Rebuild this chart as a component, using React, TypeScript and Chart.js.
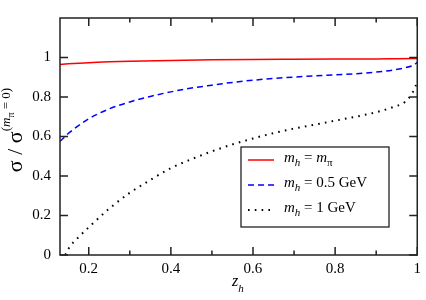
import React, { useEffect, useRef } from "react";
import { Chart, registerables } from "chart.js";

Chart.register(...registerables);

const zPion = [0.13, 0.15, 0.2, 0.25, 0.3, 0.4, 0.5, 0.6, 0.7, 0.8, 0.9, 0.95, 1.0];
const ratioPion = [0.965, 0.968, 0.974, 0.978, 0.981, 0.985, 0.988, 0.99, 0.991, 0.992, 0.993, 0.994, 0.995];

const zHalf = [0.13, 0.15, 0.175, 0.2, 0.25, 0.3, 0.35, 0.4, 0.45, 0.5, 0.55, 0.6, 0.65, 0.7, 0.75, 0.8, 0.85, 0.9, 0.94, 0.97, 0.99, 1.0];
const ratioHalf = [0.575, 0.615, 0.655, 0.69, 0.74, 0.775, 0.803, 0.826, 0.845, 0.86, 0.874, 0.885, 0.894, 0.901, 0.907, 0.912, 0.918, 0.926, 0.936, 0.948, 0.96, 0.975];

const zOne = [0.143, 0.15, 0.175, 0.2, 0.25, 0.3, 0.35, 0.4, 0.45, 0.5, 0.55, 0.6, 0.65, 0.7, 0.75, 0.8, 0.85, 0.9, 0.94, 0.97, 0.985, 0.995, 1.0];
const ratioOne = [0.0, 0.03, 0.09, 0.14, 0.235, 0.315, 0.38, 0.44, 0.485, 0.525, 0.56, 0.59, 0.617, 0.64, 0.66, 0.68, 0.7, 0.723, 0.748, 0.775, 0.81, 0.85, 0.88];

const xMajorTicks = [0.2, 0.4, 0.6, 0.8, 1.0];
const xMinorTicks = [0.3, 0.5, 0.7, 0.9];
const yMajorTicks = [0, 0.2, 0.4, 0.6, 0.8, 1.0];

const seriesMasses = ["π", "0.5 GeV", "1 GeV"];

const SERIF = "'Liberation Serif', 'Times New Roman', serif";

const pts = (xs: number[], ys: number[]) => xs.map((x, i) => ({ x, y: ys[i] }));

const framePlugin = {
  id: "frameAndDecor",
  afterDraw(chart: any) {
    const { ctx, chartArea: a, scales } = chart;
    const xs = scales.x;
    const ys = scales.y;
    ctx.save();
    ctx.strokeStyle = "#222";
    ctx.lineWidth = 1.5;
    ctx.strokeRect(a.left, a.top, a.right - a.left, a.bottom - a.top);
    ctx.beginPath();
    const major = 8;
    const minor = 4.5;
    xMajorTicks.forEach((v) => {
      const p = xs.getPixelForValue(v);
      ctx.moveTo(p, a.bottom); ctx.lineTo(p, a.bottom - major);
      ctx.moveTo(p, a.top); ctx.lineTo(p, a.top + major);
    });
    xMinorTicks.forEach((v) => {
      const p = xs.getPixelForValue(v);
      ctx.moveTo(p, a.bottom); ctx.lineTo(p, a.bottom - minor);
      ctx.moveTo(p, a.top); ctx.lineTo(p, a.top + minor);
    });
    yMajorTicks.forEach((v) => {
      const p = ys.getPixelForValue(v);
      ctx.moveTo(a.left, p); ctx.lineTo(a.left + major, p);
      ctx.moveTo(a.right, p); ctx.lineTo(a.right - major, p);
    });
    ctx.stroke();

    // Legend box
    const bx = 241, by = 147, bw = 148, bh = 80;
    ctx.fillStyle = "#fff";
    ctx.fillRect(bx, by, bw, bh);
    ctx.lineWidth = 1.3;
    ctx.strokeStyle = "#222";
    ctx.strokeRect(bx, by, bw, bh);
    const rows = [162, 187, 212];
    const styles = [
      { color: "#ff0000", dash: [] as number[], width: 1.5, cap: "butt" },
      { color: "#0000ff", dash: [6, 4], width: 1.5, cap: "butt" },
      { color: "#000000", dash: [1.6, 5.2], width: 2, cap: "butt" },
    ];
    rows.forEach((base, i) => {
      const s = styles[i];
      ctx.beginPath();
      ctx.setLineDash(s.dash);
      ctx.strokeStyle = s.color;
      ctx.lineWidth = s.width;
      ctx.lineCap = s.cap;
      ctx.moveTo(248, base - 2);
      ctx.lineTo(274, base - 2);
      ctx.stroke();
      ctx.setLineDash([]);
      ctx.fillStyle = "#000";
      ctx.textBaseline = "alphabetic";
      ctx.textAlign = "left";
      let x = 284;
      ctx.font = `italic 15px ${SERIF}`;
      ctx.fillText("m", x, base);
      x += ctx.measureText("m").width;
      ctx.font = `italic 11px ${SERIF}`;
      ctx.fillText("h", x, base + 4);
      x += ctx.measureText("h").width;
      ctx.font = `15px ${SERIF}`;
      ctx.fillText(" = ", x, base);
      x += ctx.measureText(" = ").width;
      if (i === 0) {
        ctx.font = `italic 15px ${SERIF}`;
        ctx.fillText("m", x, base);
        x += ctx.measureText("m").width;
        ctx.font = `11px ${SERIF}`;
        ctx.fillText(seriesMasses[0], x, base + 4);
      } else {
        ctx.font = `15px ${SERIF}`;
        ctx.fillText(seriesMasses[i], x, base);
      }
    });

    // X title z_h
    ctx.fillStyle = "#000";
    ctx.font = `italic 16px ${SERIF}`;
    ctx.fillText("z", 232, 286);
    const zw = ctx.measureText("z").width;
    ctx.font = `italic 11px ${SERIF}`;
    ctx.fillText("h", 232 + zw, 292);

    // Y title sigma / sigma^(m_pi = 0)
    ctx.translate(22, 0);
    ctx.rotate(-Math.PI / 2);
    const mainFont = `22px ${SERIF}`;
    const supFont = `13px ${SERIF}`;
    const supItal = `italic 13px ${SERIF}`;
    const subFont = `10px ${SERIF}`;
    const parts = [
      { t: "σ / σ", f: mainFont, dy: 0 },
      { t: "(", f: supFont, dy: -12 },
      { t: "m", f: supItal, dy: -12 },
      { t: "π", f: subFont, dy: -8 },
      { t: " = 0)", f: supFont, dy: -12 },
    ];
    let total = 0;
    parts.forEach((p) => { ctx.font = p.f; total += ctx.measureText(p.t).width; });
    let px = -130 - total / 2;
    parts.forEach((p) => {
      ctx.font = p.f;
      ctx.fillText(p.t, px, p.dy);
      px += ctx.measureText(p.t).width;
    });
    ctx.restore();
  },
};

export default function App() {
  const ref = useRef<HTMLCanvasElement | null>(null);
  useEffect(() => {
    document.body.style.margin = "0";
    const canvas = ref.current!;
    const chart = new Chart(canvas, {
      type: "line",
      data: {
        datasets: [
          { label: "m_h = m_π", data: pts(zPion, ratioPion), borderColor: "#ff0000", borderWidth: 1.5, pointRadius: 0, cubicInterpolationMode: "monotone" },
          { label: "m_h = 0.5 GeV", data: pts(zHalf, ratioHalf), borderColor: "#0000ff", borderWidth: 1.5, borderDash: [6, 4], pointRadius: 0, cubicInterpolationMode: "monotone" },
          { label: "m_h = 1 GeV", data: pts(zOne, ratioOne), borderColor: "#000000", borderWidth: 2, borderDash: [1.6, 5.2], pointRadius: 0, cubicInterpolationMode: "monotone" },
        ],
      } as any,
      options: {
        animation: false,
        responsive: false,
        devicePixelRatio: 1,
        layout: { padding: { left: 0, right: 4, top: 2, bottom: 0 } },
        plugins: { legend: { display: false }, tooltip: { enabled: false } },
        scales: {
          x: {
            type: "linear",
            min: 0.13,
            max: 1.0,
            grid: { display: false, drawTicks: false },
            border: { display: false },
            afterBuildTicks: (s: any) => { s.ticks = xMajorTicks.map((v) => ({ value: v })); },
            afterFit: (s: any) => { s.height = 45; },
            ticks: {
              padding: 5,
              color: "#000",
              font: { family: SERIF, size: 15 },
              maxRotation: 0,
              callback: (v: any) => String(Number(v)),
            },
          },
          y: {
            type: "linear",
            min: 0,
            max: 1.2,
            grid: { display: false, drawTicks: false },
            border: { display: false },
            afterBuildTicks: (s: any) => { s.ticks = yMajorTicks.map((v) => ({ value: v })); },
            afterFit: (s: any) => { s.width = 60; },
            ticks: {
              padding: 9,
              color: "#000",
              font: { family: SERIF, size: 15 },
              callback: (v: any) => String(Number(v)),
            },
          },
        },
      } as any,
      plugins: [framePlugin],
    });
    return () => chart.destroy();
  }, []);
  return (
    <div style={{ width: 426, height: 300 }}>
      <canvas ref={ref} width={426} height={300} />
    </div>
  );
}
